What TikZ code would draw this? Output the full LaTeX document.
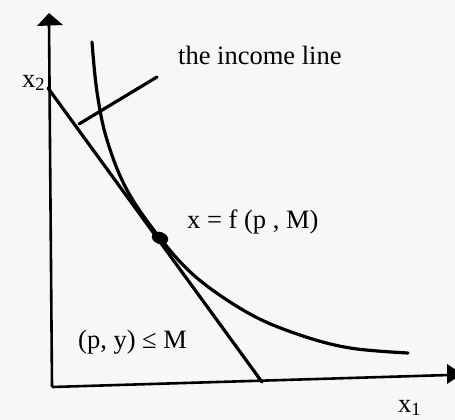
\documentclass[tikz,border=0pt]{standalone}
\usepackage{fontspec}
\setmainfont{Liberation Serif}
\usetikzlibrary{shapes.geometric}
\begin{document}
\begin{tikzpicture}[x=1pt,y=-1pt,
  curve/.style={line width=3.2pt,line cap=round,line join=round},
  axis/.style={line width=2.6pt},
  lbl/.style={anchor=base west,inner sep=0pt,font=\fontsize{26.5}{30}\selectfont}]
\useasboundingbox[fill=black!3] (0,0) rectangle (455,420);
% axes
\coordinate (O) at (52,387);
\coordinate (Ytop) at (49,22);
\coordinate (Xend) at (449,375);
\draw[axis] (O) -- (Ytop);
\draw[axis] (O) -- (Xend);
\fill (37,26) -- (49,13) -- (63,25) -- cycle;
\fill (447,364) -- (462,374) -- (447,384) -- cycle;
% budget line
\coordinate (B1) at (48,88);
\coordinate (B2) at (262,382);
\draw[curve] (B1) -- (B2);
% indifference curve
\draw[curve] plot[smooth,tension=0.6] coordinates {(92,42) (97,92) (107,140) (127,190) (160,238) (197,278) (250,314) (300,335) (350,348) (408,353)};
% tangency point
\node[fill,ellipse,inner sep=0pt,minimum width=17pt,minimum height=12pt,rotate=-20] (T) at (160,238) {};
% leader for the income line
\coordinate (L1) at (79,124);
\coordinate (L2) at (157,77);
\draw[curve] (L1) -- (L2);
% labels
\node[lbl] (x2) at (22,87) {x\textsubscript{2}};
\node[lbl] (inc) at (178,65) {the income line};
\node[lbl] (fx) at (187,228) {x = f (p , M)};
\node[lbl] (cons) at (78,348) {(p, y) ≤ M};
\node[lbl] (x1) at (398,412) {x\textsubscript{1}};
\end{tikzpicture}
\end{document}
